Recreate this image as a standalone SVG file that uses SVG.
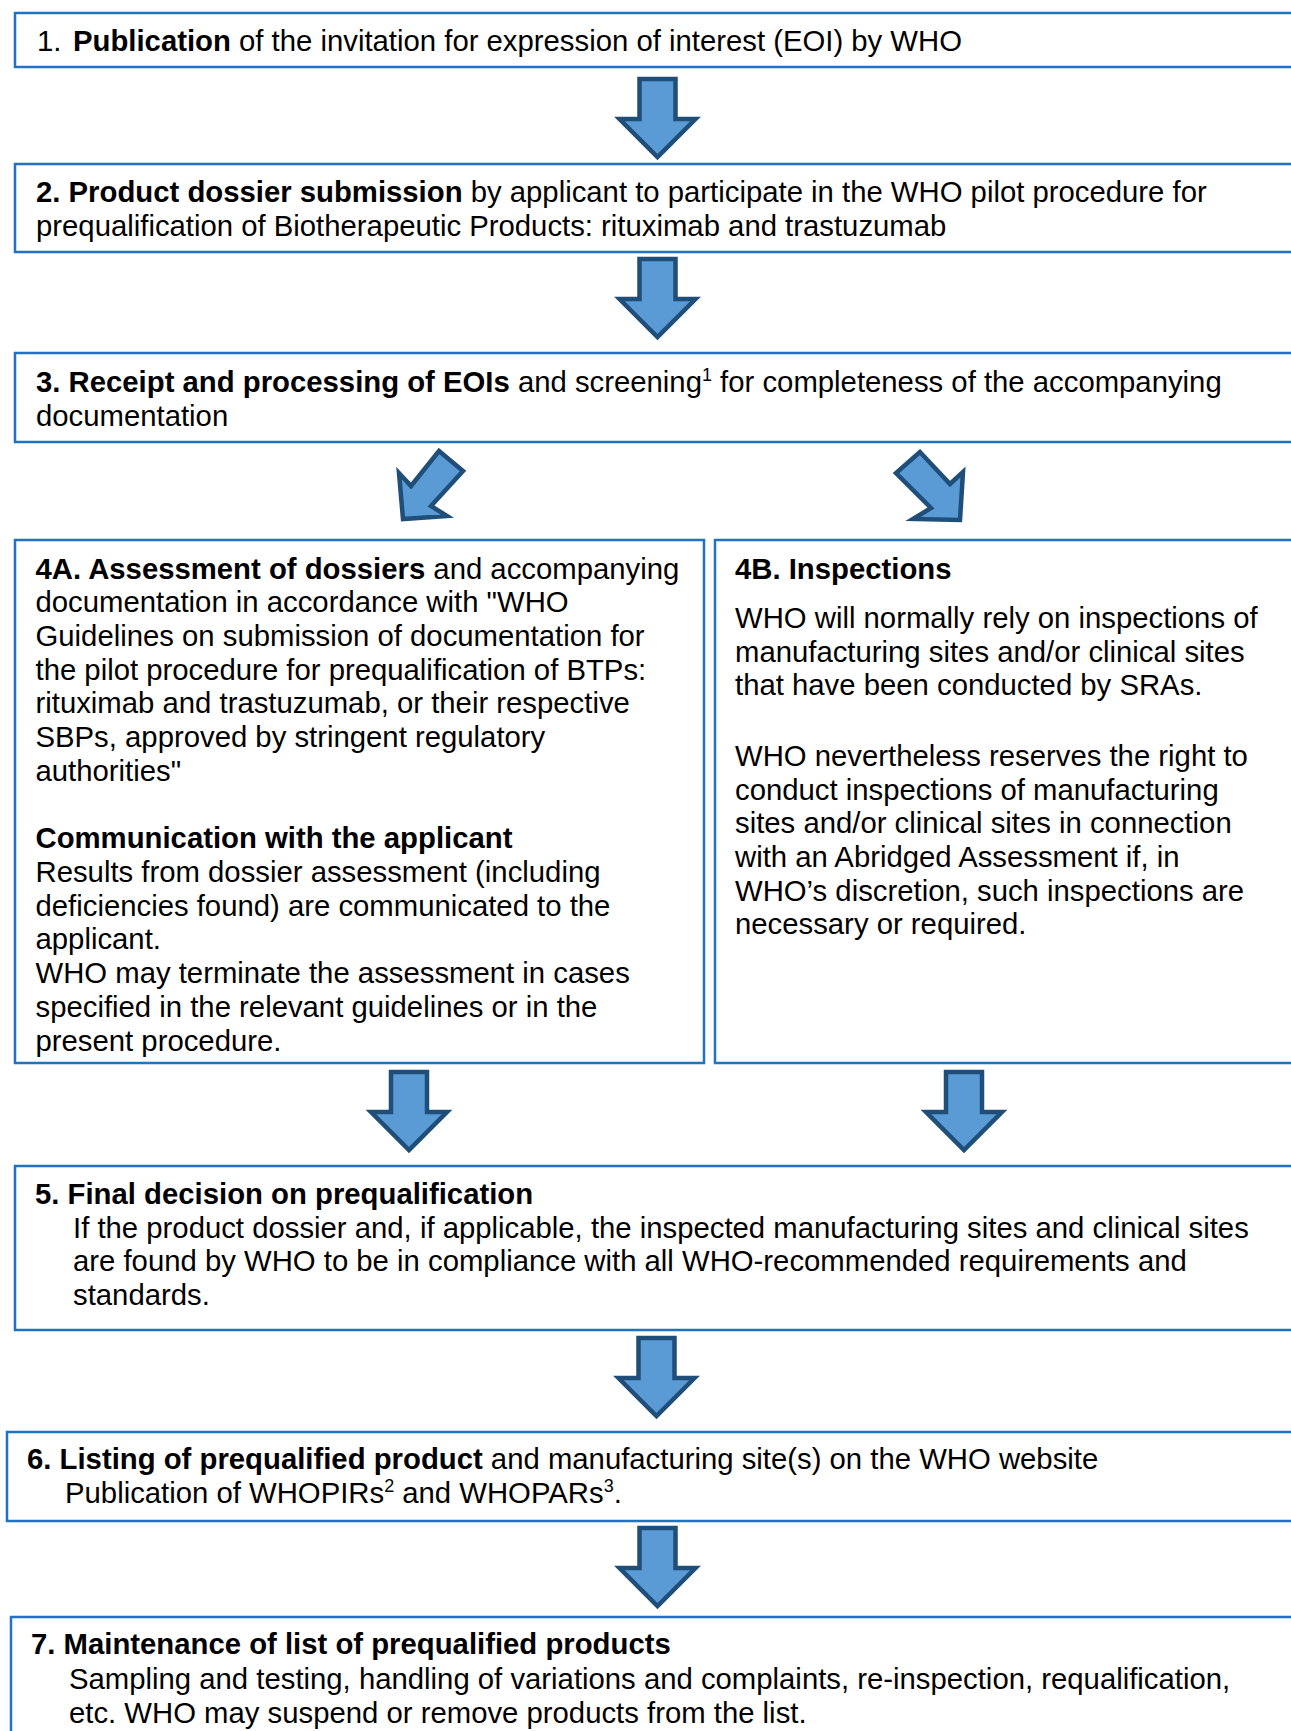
<svg xmlns="http://www.w3.org/2000/svg" width="1291" height="1731" viewBox="0 0 1291 1731">
<style>
  .box { fill: #ffffff; stroke: #2272c3; stroke-width: 2.5; }
  .arr { fill: #5b9bd5; stroke: #1f4e79; stroke-width: 4.5; stroke-linejoin: miter; }
  text { font-family: "Liberation Sans", Arial, sans-serif; font-size: 29.3px; fill: #000000; }
  .b { font-weight: bold; }
  .sup { font-size: 18px; }
</style>
<defs>
  <path id="down" d="M-18,0 H18 V40 H38 L0,78 L-38,40 H-18 Z"/>
</defs>
<rect width="1291" height="1731" fill="#ffffff"/>

<g id="connectors">
  <use href="#down" class="arr" transform="translate(657.5,79)"/>
  <use href="#down" class="arr" transform="translate(657.5,259)"/>
  <polygon class="arr" points="439,451 463,471 431,506 447,516 403,519 399,473 411,486"/>
  <polygon class="arr" points="920,452 896,473 931,508 913,519 960,520 963,472 950,484"/>
  <use href="#down" class="arr" transform="translate(409,1072)"/>
  <use href="#down" class="arr" transform="translate(964,1072)"/>
  <use href="#down" class="arr" transform="translate(656.5,1338)"/>
  <use href="#down" class="arr" transform="translate(657.5,1528)"/>
</g>

<g id="node1">
  <rect class="box" x="15" y="13" width="1290" height="54"/>
  <text x="37" y="51">1.</text>
  <text x="73" y="51"><tspan class="b">Publication</tspan> of the invitation for expression of interest (EOI) by WHO</text>
</g>

<g id="node2">
  <rect class="box" x="15" y="164" width="1290" height="88"/>
  <text x="36" y="202"><tspan class="b">2. Product dossier submission</tspan> by applicant to participate in the WHO pilot procedure for</text>
  <text x="36" y="236">prequalification of Biotherapeutic Products: rituximab and trastuzumab</text>
</g>

<g id="node3">
  <rect class="box" x="15" y="353" width="1290" height="89"/>
  <text x="36" y="392"><tspan class="b">3. Receipt and processing of EOIs</tspan> and screening<tspan class="sup" dy="-11">1</tspan><tspan dy="11"> for completeness of the accompanying</tspan></text>
  <text x="36" y="426">documentation</text>
</g>

<g id="node4a">
  <rect class="box" x="15" y="540" width="689" height="523"/>
  <text x="35.5" y="578.5"><tspan class="b">4A. Assessment of dossiers</tspan> and accompanying</text>
  <text x="35.5" y="612.2">documentation in accordance with "WHO</text>
  <text x="35.5" y="645.9">Guidelines on submission of documentation for</text>
  <text x="35.5" y="679.6">the pilot procedure for prequalification of BTPs:</text>
  <text x="35.5" y="713.3">rituximab and trastuzumab, or their respective</text>
  <text x="35.5" y="747">SBPs, approved by stringent regulatory</text>
  <text x="35.5" y="780.7">authorities"</text>
  <text x="35.5" y="848.3" class="b">Communication with the applicant</text>
  <text x="35.5" y="882">Results from dossier assessment (including</text>
  <text x="35.5" y="915.7">deficiencies found) are communicated to the</text>
  <text x="35.5" y="949.4">applicant.</text>
  <text x="35.5" y="983.1">WHO may terminate the assessment in cases</text>
  <text x="35.5" y="1016.8">specified in the relevant guidelines or in the</text>
  <text x="35.5" y="1050.5">present procedure.</text>
</g>

<g id="node4b">
  <rect class="box" x="715" y="540" width="590" height="523"/>
  <text x="735" y="578.5" class="b">4B. Inspections</text>
  <text x="735" y="627.8">WHO will normally rely on inspections of</text>
  <text x="735" y="661.5">manufacturing sites and/or clinical sites</text>
  <text x="735" y="695.2">that have been conducted by SRAs.</text>
  <text x="735" y="765.8">WHO nevertheless reserves the right to</text>
  <text x="735" y="799.5">conduct inspections of manufacturing</text>
  <text x="735" y="833.2">sites and/or clinical sites in connection</text>
  <text x="735" y="866.9">with an Abridged Assessment if, in</text>
  <text x="735" y="900.6">WHO’s discretion, such inspections are</text>
  <text x="735" y="934.3">necessary or required.</text>
</g>

<g id="node5">
  <rect class="box" x="15" y="1166" width="1290" height="164"/>
  <text x="35" y="1204.3" class="b">5. Final decision on prequalification</text>
  <text x="73" y="1237.8">If the product dossier and, if applicable, the inspected manufacturing sites and clinical sites</text>
  <text x="73" y="1271.3">are found by WHO to be in compliance with all WHO-recommended requirements and</text>
  <text x="73" y="1304.8">standards.</text>
</g>

<g id="node6">
  <rect class="box" x="7" y="1432" width="1298" height="89"/>
  <text x="27" y="1469.3"><tspan class="b">6. Listing of prequalified product</tspan> and manufacturing site(s) on the WHO website</text>
  <text x="65" y="1502.8">Publication of WHOPIRs<tspan class="sup" dy="-11">2</tspan><tspan dy="11"> and WHOPARs</tspan><tspan class="sup" dy="-11">3</tspan><tspan dy="11">.</tspan></text>
</g>

<g id="node7">
  <rect class="box" x="11" y="1617" width="1294" height="130"/>
  <text x="31" y="1654.3" class="b">7. Maintenance of list of prequalified products</text>
  <text x="69" y="1688.8">Sampling and testing, handling of variations and complaints, re-inspection, requalification,</text>
  <text x="69" y="1722.5">etc. WHO may suspend or remove products from the list.</text>
</g>
</svg>
